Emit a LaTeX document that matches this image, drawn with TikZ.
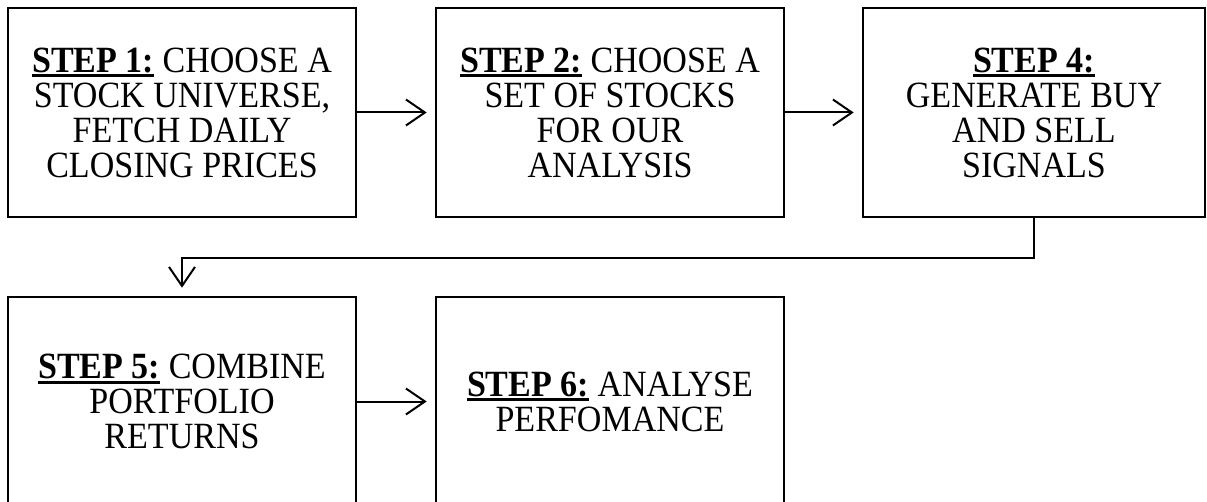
\documentclass[tikz,border=0pt]{standalone}
\usepackage{fontspec}
\setmainfont{Liberation Serif}[FakeStretch=0.92]
\usetikzlibrary{arrows.meta}

% bold, thickly underlined step label
\newsavebox{\steplabelbox}
\newcommand{\steplabel}[1]{%
  \sbox{\steplabelbox}{\textbf{#1}}%
  \rlap{\rule[-5pt]{\wd\steplabelbox}{3pt}}\usebox{\steplabelbox}}

\tikzset{
  stepbox/.style={draw, line width=2.6pt, minimum width=348pt,
    minimum height=209pt, inner sep=0pt, align=center,
    font=\fontsize{37}{35}\selectfont},
  flow/.style={draw, line width=2pt,
    -{Straight Barb[length=19pt, width=26pt, line width=2pt]},
    shorten >=8pt}
}

\begin{document}
\begin{tikzpicture}[x=1pt, y=-1pt]
  \useasboundingbox (0,0) rectangle (1207,502);
  \begin{scope}
    \clip (0,0) rectangle (1207,502);

    \node[stepbox] (s1) at (182,112.5)
      {\steplabel{STEP 1:} CHOOSE A\\STOCK UNIVERSE,\\FETCH DAILY\\CLOSING PRICES};
    \node[stepbox] (s2) at (610,112.5)
      {\steplabel{STEP 2:} CHOOSE A\\SET OF STOCKS\\FOR OUR\\ANALYSIS};
    \node[stepbox, minimum width=342pt] (s4) at (1034,112.5)
      {\steplabel{STEP 4:}\\GENERATE BUY\\AND SELL\\SIGNALS};
    \node[stepbox] (s5) at (182,401.5)
      {\steplabel{STEP 5:} COMBINE\\PORTFOLIO\\RETURNS};
    \node[stepbox] (s6) at (610,401.5)
      {\steplabel{STEP 6:} ANALYSE\\PERFOMANCE};

    \draw[flow] (s1.east) -- (s2.west);
    \draw[flow] (s2.east) -- (s4.west);
    \draw[flow] (s4.south) -- ++(0,40) -| (s5.north);
    \draw[flow] (s5.east) -- (s6.west);
  \end{scope}
\end{tikzpicture}
\end{document}
